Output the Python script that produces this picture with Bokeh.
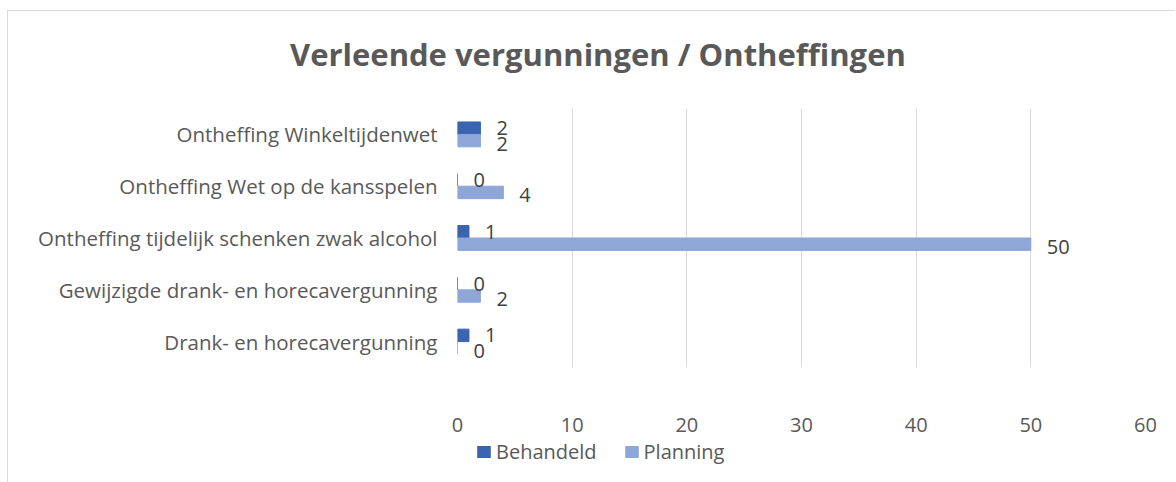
from bokeh.plotting import figure
from bokeh.layouts import column
from bokeh.models import (ColumnDataSource, Range1d, FixedTicker, LabelSet,
                          Legend, LegendItem, FactorRange, Div)
from bokeh.transform import dodge
from bokeh.core.properties import value
from bokeh.embed import file_html
from bokeh.resources import INLINE

title_text = "Verleende vergunningen / Ontheffingen"
categories = ["Drank- en horecavergunning",
              "Gewijzigde drank- en horecavergunning",
              "Ontheffing tijdelijk schenken zwak alcohol",
              "Ontheffing Wet op de kansspelen",
              "Ontheffing Winkeltijdenwet"]
behandeld = [1, 0, 1, 0, 2]
planning = [0, 2, 50, 4, 2]
x_ticks = [0, 10, 20, 30, 40, 50, 60]
series_names = ["Behandeld", "Planning"]

FONT = "Open Sans"
TXT = "#595959"
DARK = "#3A63B0"
LIGHT = "#8EA6D8"

src = ColumnDataSource(dict(cat=categories, beh=behandeld, plan=planning,
                            beh_t=[str(v) for v in behandeld],
                            plan_t=[str(v) for v in planning]))

W = 1167

# title strip
title_div = Div(
    text=('<div style="padding-left:282px;padding-top:22px;font-family:\'Open Sans\';'
          'font-size:31px;line-height:42px;font-weight:bold;color:#595959;'
          'white-space:nowrap;">' + title_text + '</div>'),
    width=W, height=64, margin=(0, 0, 0, 0))

p = figure(width=W, height=372, y_range=FactorRange(*categories), x_range=Range1d(0, 60),
           output_backend="svg", toolbar_location=None,
           min_border_left=449, min_border_right=30, min_border_top=33, min_border_bottom=80)
p.outline_line_color = None
p.background_fill_color = "white"
p.border_fill_color = "white"

r1 = p.hbar(y=dodge("cat", 0.12, range=p.y_range), right="beh", left=0, height=0.24,
            color=DARK, source=src)
r2 = p.hbar(y=dodge("cat", -0.12, range=p.y_range), right="plan", left=0, height=0.24,
            color=LIGHT, source=src)

lab1 = LabelSet(x="beh", y=dodge("cat", 0.12, range=p.y_range), text="beh_t", source=src,
                x_offset=16, text_baseline="middle", text_font=value(FONT),
                text_font_size="20px", text_color="#404040")
lab2 = LabelSet(x="plan", y=dodge("cat", -0.12, range=p.y_range), text="plan_t", source=src,
                x_offset=16, y_offset=-3, text_baseline="middle", text_font=value(FONT),
                text_font_size="20px", text_color="#404040")
p.add_layout(lab1)
p.add_layout(lab2)

p.xaxis.ticker = FixedTicker(ticks=x_ticks)
p.xgrid.ticker = FixedTicker(ticks=x_ticks)
p.xgrid.grid_line_color = "#d9d9d9"
p.xgrid.grid_line_width = 1
p.ygrid.grid_line_color = None
for ax in (p.xaxis, p.yaxis):
    ax.axis_line_color = None
    ax.major_tick_line_color = None
    ax.minor_tick_line_color = None
    ax.major_tick_out = 0
    ax.minor_tick_out = 0
    ax.major_label_text_color = TXT
    ax.major_label_text_font = FONT
p.xaxis.major_label_text_font_size = "20px"
p.xaxis.major_label_standoff = 50
p.yaxis.major_label_text_font_size = "20.5px"
p.yaxis.major_label_standoff = 20

# separate strip for the legend, below the chart
lf = figure(width=W, height=46, output_backend="svg", toolbar_location=None,
            x_axis_type=None, y_axis_type=None,
            min_border_left=449, min_border_right=30, min_border_top=0, min_border_bottom=0,
            styles={"margin-top": "-11px"})
lf.outline_line_color = None
lf.grid.grid_line_color = None
lf.background_fill_alpha = 0
lf.border_fill_alpha = 0
# zero-size marks: only their legend swatches are seen
g1 = lf.hbar(y="beh", left=0, right=0, height=0, fill_color=DARK, line_color=None, source=src)
g2 = lf.hbar(y="plan", left=0, right=0, height=0, fill_color=LIGHT, line_color=None, source=src)
legend = Legend(items=[LegendItem(label=series_names[0], renderers=[g1]),
                       LegendItem(label=series_names[1], renderers=[g2])],
                location=(18, 17), orientation="horizontal",
                padding=0, margin=0, spacing=26, label_standoff=4,
                glyph_width=17, glyph_height=15,
                label_text_font=FONT, label_text_font_size="20px",
                label_text_color=TXT, border_line_color=None,
                background_fill_alpha=0)
lf.add_layout(legend, "center")

layout = column(title_div, p, lf, spacing=0,
                styles={"margin-left": "7px", "margin-top": "10px",
                        "border-left": "1px solid #d9d9d9", "border-top": "1px solid #d9d9d9"})

open("out.html", "w").write(file_html(layout, INLINE))
